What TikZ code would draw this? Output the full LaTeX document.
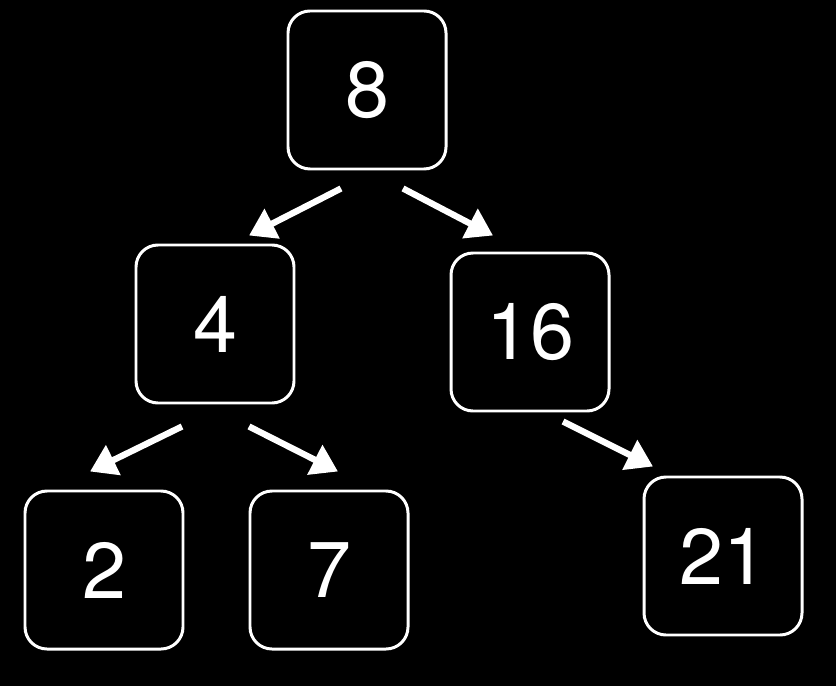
\documentclass[tikz,border=0pt]{standalone}
\usepackage{fontspec}
\setmainfont{TeX Gyre Heros}
\usetikzlibrary{arrows.meta}

\begin{document}
\begin{tikzpicture}[
    >={Triangle[length=0.52cm, width=0.64cm]},
    key/.style={draw=white, line width=1.7pt, rounded corners=0.44cm, fill=black,
      minimum width=3.16cm, minimum height=3.16cm, text=white,
      font=\fontsize{45}{45}\selectfont},
    arrow/.style={->, white, line width=3.6pt},
  ]
  % background and frame
  \fill[black] (0,0) rectangle (16.72,-13.72);
  \useasboundingbox (0,0) rectangle (16.72,-13.72);
  % keys
  \node[key] (k8) at (7.34,-1.8) {8};
  \node[key] (k4) at (4.3,-6.48) {4};
  \node[key] (k16) at (10.6,-6.64) {16};
  \node[key] (k2) at (2.08,-11.4) {2};
  \node[key] (k7) at (6.58,-11.4) {7};
  \node[key] (k21) at (14.46,-11.12) {21};
  % links
  \draw[arrow] ([xshift=-0.52cm, yshift=-0.36cm]k8.south) -- ([xshift=0.68cm, yshift=0.16cm]k4.north);
  \draw[arrow] ([xshift=0.72cm, yshift=-0.36cm]k8.south) -- ([xshift=-0.74cm, yshift=0.32cm]k16.north);
  \draw[arrow] ([xshift=-0.66cm, yshift=-0.44cm]k4.south) -- ([xshift=-0.28cm, yshift=0.36cm]k2.north);
  \draw[arrow] ([xshift=0.68cm, yshift=-0.44cm]k4.south) -- ([xshift=0.18cm, yshift=0.36cm]k7.north);
  \draw[arrow] ([xshift=0.66cm, yshift=-0.18cm]k16.south) -- ([xshift=-1.4cm, yshift=0.18cm]k21.north);
\end{tikzpicture}
\end{document}
